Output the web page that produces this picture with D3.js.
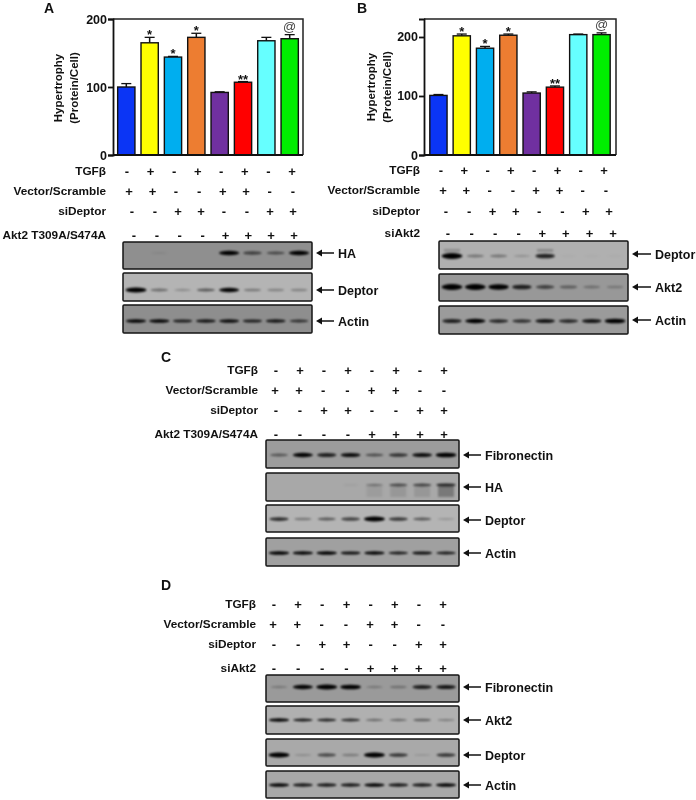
<!DOCTYPE html>
<html><head><meta charset="utf-8">
<script src="https://cdn.jsdelivr.net/npm/d3@7"></script>
<style>
html,body{margin:0;padding:0;background:#fff}
svg{display:block;filter:blur(0.4px)}
text{font-family:"Liberation Sans",Arial,sans-serif;font-weight:bold;fill:#111}
</style></head><body>
<svg id="c" width="696" height="800"></svg>
<script>
// ---------- data ----------
const barColors = ["#0b35f5","#ffff00","#00aeef","#ed7d31","#7030a0","#ff0000","#66ffff","#00ee00"];
const hypertrophyA = [100,165,144,173,92,107,168,171];
const errorA = [5,8,1,6,1,1,5,6];
const hypertrophyB = [101,202,181,203,105,115,204,204];
const errorB = [1.5,3,3,2,2,2,1,3];
const sigMarks = ["","*","*","*","","**","","@"];
const ticksA = [0,100,200];
const ticksB = [0,100,200];
const tgfSigns = ["-","+","-","+","-","+","-","+"];
const vectorSigns = ["+","+","-","-","+","+","-","-"];
const siDeptorSigns = ["-","-","+","+","-","-","+","+"];
const fourthSigns = ["-","-","-","-","+","+","+","+"];
const yTitle = ["Hypertrophy","(Protein/Cell)"];
const blotA = {HA:[0,.06,0,0,.9,.5,.45,.9],Deptor:[1,.35,.2,.45,.85,.3,.25,.25],Actin:[.85,.85,.7,.75,.8,.7,.75,.6]};
const blotB = {Deptor:[1,.3,.3,.15,.7,.03,.03,.03],Akt2:[1,1,.9,.7,.5,.35,.25,.2],Actin:[.7,.9,.65,.6,.75,.65,.75,.95]};
const blotC = {Fibronectin:[.4,.85,.7,.8,.45,.6,.8,.95],HA:[0,0,0,.05,.3,.5,.55,.7],Deptor:[.65,.3,.45,.55,1,.6,.45,.15],Actin:[.9,.85,.9,.8,.85,.75,.8,.75]};
const blotD = {Fibronectin:[.2,.85,1,.95,.2,.25,.7,.75],Akt2:[.85,.75,.7,.65,.35,.35,.4,.25],Deptor:[1,.15,.5,.25,1,.6,.1,.6],Actin:[.85,.75,.75,.75,.85,.75,.75,.85]};
const smearCHA = [0,0,0,0,.07,.1,.1,.28];
const ghostBDeptor = [.2,0,0,0,.22,0,0,0];

// ---------- helpers ----------
const svg = d3.select("#c");
const defs = svg.append("defs");
defs.append("filter").attr("id","bl").attr("x","-30%").attr("y","-120%").attr("width","160%").attr("height","340%")
  .append("feGaussianBlur").attr("stdDeviation",1.0);
const lanes = d3.range(8);

function letter(t,x,y){ svg.append("text").attr("x",x).attr("y",y).attr("font-size",14).text(t); }

function barPanel(o){
  const g = svg.append("g");
  const x = d3.scaleBand().domain(lanes).range([o.x0,o.x1]).paddingInner(.26).paddingOuter(o.outer);
  const y = d3.scaleLinear().domain([0,o.yMax]).range([o.y0,o.y1]);
  g.selectAll("line.err").data(o.values).join("line").attr("class","err")
    .attr("x1",(d,i)=>x(i)+x.bandwidth()/2).attr("x2",(d,i)=>x(i)+x.bandwidth()/2)
    .attr("y1",d=>y(d)).attr("y2",(d,i)=>y(d+o.err[i])).attr("stroke","#111").attr("stroke-width",1.5);
  g.selectAll("line.cap").data(o.values).join("line").attr("class","cap")
    .attr("x1",(d,i)=>x(i)+x.bandwidth()/2-5).attr("x2",(d,i)=>x(i)+x.bandwidth()/2+5)
    .attr("y1",(d,i)=>y(d+o.err[i])).attr("y2",(d,i)=>y(d+o.err[i])).attr("stroke","#111").attr("stroke-width",1.3);
  g.selectAll("rect.bar").data(o.values).join("rect").attr("class","bar")
    .attr("x",(d,i)=>x(i)).attr("width",x.bandwidth()).attr("y",d=>y(d)).attr("height",d=>y(0)-y(d))
    .attr("fill",(d,i)=>barColors[i]).attr("stroke","#111").attr("stroke-width",1.4);
  g.append("path").attr("d",`M${o.x0},${o.y1}H${o.x1}V${o.y0}`).attr("fill","none").attr("stroke","#222").attr("stroke-width",1.5);
  g.append("line").attr("x1",o.x0).attr("x2",o.x1).attr("y1",o.y0).attr("y2",o.y0).attr("stroke","#111").attr("stroke-width",2);
  const ax = g.append("g").attr("transform",`translate(${o.x0},0)`)
    .call(d3.axisLeft(y).tickValues(o.ticks).tickSize(5).tickPadding(1));
  ax.selectAll("path,line").attr("stroke","#111").attr("stroke-width",1.8);
  ax.selectAll("text").attr("font-size",12.5).attr("font-family","Liberation Sans").attr("font-weight","bold").attr("fill","#111");
  g.selectAll("text.sig").data(sigMarks).join("text").attr("class","sig")
    .attr("x",(d,i)=>x(i)+x.bandwidth()/2)
    .attr("y",(d,i)=>y(o.values[i]+o.err[i])-(d==="@"?4:-2))
    .attr("text-anchor","middle").attr("font-size",13)
    .style("font-weight",d=>d==="@"?"normal":"bold").style("fill",d=>d==="@"?"#444":"#111").text(d=>d);
  yTitle.forEach((t,i)=>g.append("text").attr("text-anchor","middle")
    .attr("transform",`translate(${o.tx+i*15.5},${(o.y0+o.y1)/2+o.tdy}) rotate(-90)`)
    .attr("font-size",11.5).text(t));
}

function signRows(o){
  o.rows.forEach(r=>{
    const x = d3.scaleLinear().domain([0,7]).range([r.a,r.b]);
    svg.append("text").attr("x",o.labelX).attr("y",r.y).attr("dy","0.35em").attr("text-anchor","end")
      .attr("font-size",11.8).text(r.label);
    svg.append("g").selectAll("text").data(r.signs).join("text")
      .attr("x",(d,i)=>x(i)).attr("y",r.y).attr("dy","0.35em").attr("text-anchor","middle")
      .attr("font-size",13).text(d=>d);
  });
}

function blots(o){
  const x = d3.scalePoint().domain(lanes).range([o.x0+13,o.x1-13]);
  o.rows.forEach(r=>{
    const g = svg.append("g");
    const by = r.y+(r.bandDy||0);
    g.append("rect").attr("x",o.x0).attr("y",r.top).attr("width",o.x1-o.x0).attr("height",r.bot-r.top)
      .attr("fill",r.bg).attr("stroke","#151515").attr("stroke-width",1.5).attr("rx",1);
    if(r.extra) g.append("g").attr("filter","url(#bl)").selectAll("rect").data(r.extra).join("rect")
      .attr("x",(d,i)=>x(i)-8).attr("width",16).attr("y",by+r.extraDy).attr("height",r.extraH)
      .attr("fill","#000").attr("opacity",d=>d);
    g.append("g").attr("filter","url(#bl)").selectAll("ellipse").data(r.bands).join("ellipse")
      .attr("cx",(d,i)=>x(i)).attr("cy",by)
      .attr("rx",d=>8+d*2.5).attr("ry",d=>0.9+d*(r.thick||1.5))
      .attr("fill","#000").attr("opacity",d=>Math.min(1,d*1.15));
    const ax = o.x1+4;
    g.append("line").attr("x1",ax+3).attr("x2",ax+o.aLen).attr("y1",r.y).attr("y2",r.y).attr("stroke","#111").attr("stroke-width",1.5);
    g.append("path").attr("d",`M${ax},${r.y}l6,-3.5v7z`).attr("fill","#111");
    g.append("text").attr("x",ax+o.aLen+4).attr("y",r.y).attr("dy","0.36em").attr("font-size",12.5).text(r.label);
  });
}

// ---------- panel A ----------
letter("A",44,13);
barPanel({x0:113,x1:303,y0:155,y1:19,yMax:200,outer:.2,values:hypertrophyA,err:errorA,ticks:ticksA,tx:62,tdy:1});
signRows({labelX:106,rows:[
 {label:"TGFβ",y:171,signs:tgfSigns,a:127,b:292},
 {label:"Vector/Scramble",y:191,signs:vectorSigns,a:129,b:293},
 {label:"siDeptor",y:211,signs:siDeptorSigns,a:132,b:293},
 {label:"Akt2 T309A/S474A",y:235,signs:fourthSigns,a:134,b:294}]});
blots({x0:123,x1:312,aLen:18,rows:[
 {label:"HA",top:242,bot:269,y:253,bg:"#8f8f8f",bands:blotA.HA},
 {label:"Deptor",top:273,bot:301,y:290,bg:"#b4b4b4",bands:blotA.Deptor},
 {label:"Actin",top:305,bot:333,y:321,bg:"#8e8e8e",bands:blotA.Actin,thick:1}]});

// ---------- panel B ----------
letter("B",357,13);
barPanel({x0:424,x1:616,y0:155,y1:19,yMax:230.5,outer:.25,values:hypertrophyB,err:errorB,ticks:ticksB,tx:375,tdy:0});
signRows({labelX:420,rows:[
 {label:"TGFβ",y:170,signs:tgfSigns,a:441,b:604},
 {label:"Vector/Scramble",y:190,signs:vectorSigns,a:443,b:606},
 {label:"siDeptor",y:211,signs:siDeptorSigns,a:446,b:609},
 {label:"siAkt2",y:233,signs:fourthSigns,a:448,b:613}]});
blots({x0:439,x1:628,aLen:19,rows:[
 {label:"Deptor",top:241,bot:269,y:254,bandDy:2,bg:"#b0b0b0",bands:blotB.Deptor,thick:2,extra:ghostBDeptor,extraDy:-7,extraH:3},
 {label:"Akt2",top:274,bot:301,y:287,bg:"#989898",bands:blotB.Akt2,thick:2},
 {label:"Actin",top:306,bot:334,y:320,bandDy:1,bg:"#9b9b9b",bands:blotB.Actin}]});

// ---------- panel C ----------
letter("C",161,362);
signRows({labelX:258,rows:[
 {label:"TGFβ",y:370,signs:tgfSigns,a:276,b:444},
 {label:"Vector/Scramble",y:390,signs:vectorSigns,a:275,b:444},
 {label:"siDeptor",y:410,signs:siDeptorSigns,a:276,b:444},
 {label:"Akt2 T309A/S474A",y:434,signs:fourthSigns,a:276,b:444}]});
blots({x0:266,x1:459,aLen:18,rows:[
 {label:"Fibronectin",top:440,bot:468,y:455,bg:"#9c9c9c",bands:blotC.Fibronectin},
 {label:"HA",top:473,bot:501,y:487,bandDy:-2,bg:"#a8a8a8",bands:blotC.HA,thick:1,extra:smearCHA,extraDy:1,extraH:11},
 {label:"Deptor",top:505,bot:532,y:520,bandDy:-1,bg:"#b4b4b4",bands:blotC.Deptor},
 {label:"Actin",top:538,bot:566,y:553,bg:"#a0a0a0",bands:blotC.Actin,thick:.9}]});

// ---------- panel D ----------
letter("D",161,590);
signRows({labelX:256,rows:[
 {label:"TGFβ",y:604,signs:tgfSigns,a:274,b:443},
 {label:"Vector/Scramble",y:624,signs:vectorSigns,a:273,b:443},
 {label:"siDeptor",y:644,signs:siDeptorSigns,a:274,b:443},
 {label:"siAkt2",y:668,signs:fourthSigns,a:274,b:443}]});
blots({x0:266,x1:459,aLen:18,rows:[
 {label:"Fibronectin",top:675,bot:702,y:687,bg:"#9a9a9a",bands:blotD.Fibronectin},
 {label:"Akt2",top:706,bot:734,y:720,bg:"#b0b0b0",bands:blotD.Akt2,thick:.9},
 {label:"Deptor",top:739,bot:766,y:755,bg:"#a9a9a9",bands:blotD.Deptor},
 {label:"Actin",top:771,bot:798,y:785,bg:"#a8a8a8",bands:blotD.Actin,thick:1}]});
</script>
</body></html>
